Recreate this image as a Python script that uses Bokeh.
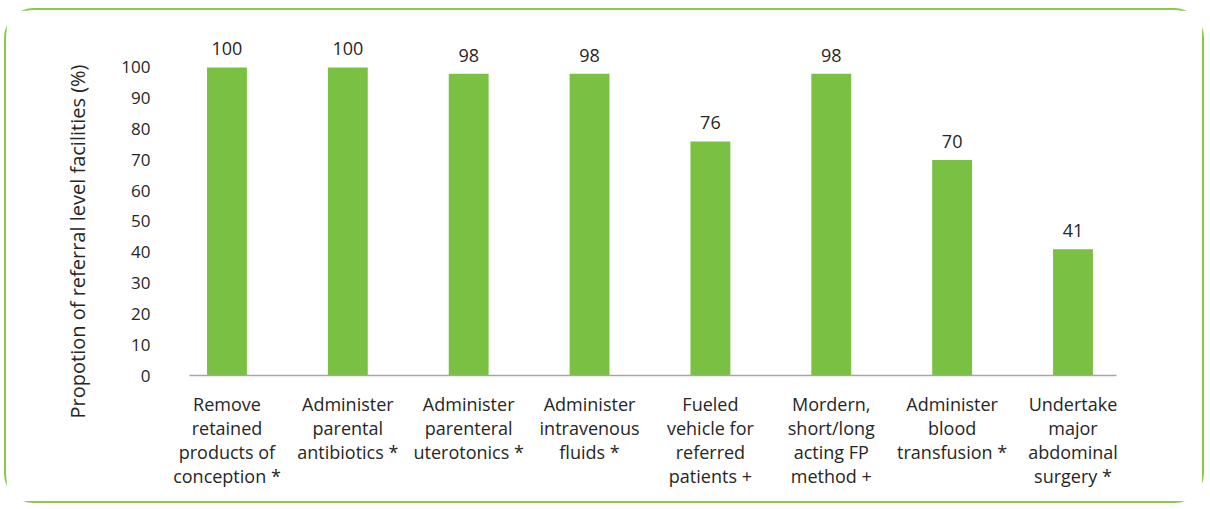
from bokeh.plotting import figure
from bokeh.models import Range1d, FixedTicker, ColumnDataSource, Title
from bokeh.core.properties import value
from bokeh.embed import file_html
from bokeh.resources import INLINE

categories = [
    "Remove\nretained\nproducts of\nconception *",
    "Administer\nparental\nantibiotics *",
    "Administer\nparenteral\nuterotonics *",
    "Administer\nintravenous\nfluids *",
    "Fueled\nvehicle for\nreferred\npatients +",
    "Mordern,\nshort/long\nacting FP\nmethod +",
    "Administer\nblood\ntransfusion *",
    "Undertake\nmajor\nabdominal\nsurgery *",
]
values = [100, 100, 98, 98, 76, 98, 70, 41]
y_ticks = [0, 10, 20, 30, 40, 50, 60, 70, 80, 90, 100]
y_title = "Propotion of referral level facilities (%)"

FONT = "Open Sans"
TEXT = "#262626"
GREEN = "#7AC143"

xs = list(range(len(categories)))
src = ColumnDataSource(dict(x=xs, y=values, lab=[str(v) for v in values]))

W, H = 1200, 495
p = figure(width=W, height=H, output_backend="svg", toolbar_location=None,
           x_range=Range1d(-0.31, 7.36), y_range=Range1d(0, 112),
           min_border_left=183, min_border_right=90, min_border_top=20,
           min_border_bottom=130, outline_line_color=None)
p.styles = {"border": "2px solid #8CC84B", "border-radius": "30px",
            "margin-left": "4px", "margin-top": "8px"}

p.vbar(x="x", top="y", width=0.33, source=src, color=GREEN, line_color=None)
p.text(x="x", y="y", text="lab", source=src, text_align="center",
       text_baseline="bottom", y_offset=-12, text_font=value(FONT),
       text_font_size="18px", text_color=TEXT)

p.xgrid.visible = False
p.ygrid.visible = False

p.xaxis.ticker = FixedTicker(ticks=xs)
p.xaxis.major_label_overrides = {i: c for i, c in zip(xs, categories)}
p.xaxis.axis_line_color = "#A6A6A6"
p.xaxis.axis_line_width = 1.5
p.xaxis.major_tick_line_color = None
p.xaxis.minor_tick_line_color = None
p.xaxis.major_label_standoff = 10
p.xaxis.major_label_text_font = FONT
p.xaxis.major_label_text_font_size = "18px"
p.xaxis.major_label_text_color = TEXT
p.xaxis.major_label_text_line_height = 1.0

p.yaxis.ticker = FixedTicker(ticks=y_ticks)
p.yaxis.axis_line_color = None
p.yaxis.major_tick_line_color = None
p.yaxis.minor_tick_line_color = None
p.yaxis.major_label_standoff = 33
p.yaxis.major_label_text_font = FONT
p.yaxis.major_label_text_font_size = "17px"
p.yaxis.major_label_text_color = TEXT

p.add_layout(Title(text=y_title, align="left", offset=-43, standoff=56,
                   text_font=FONT, text_font_size="20px",
                   text_font_style="normal", text_color=TEXT), "left")

open("out.html", "w").write(file_html(p, INLINE))
